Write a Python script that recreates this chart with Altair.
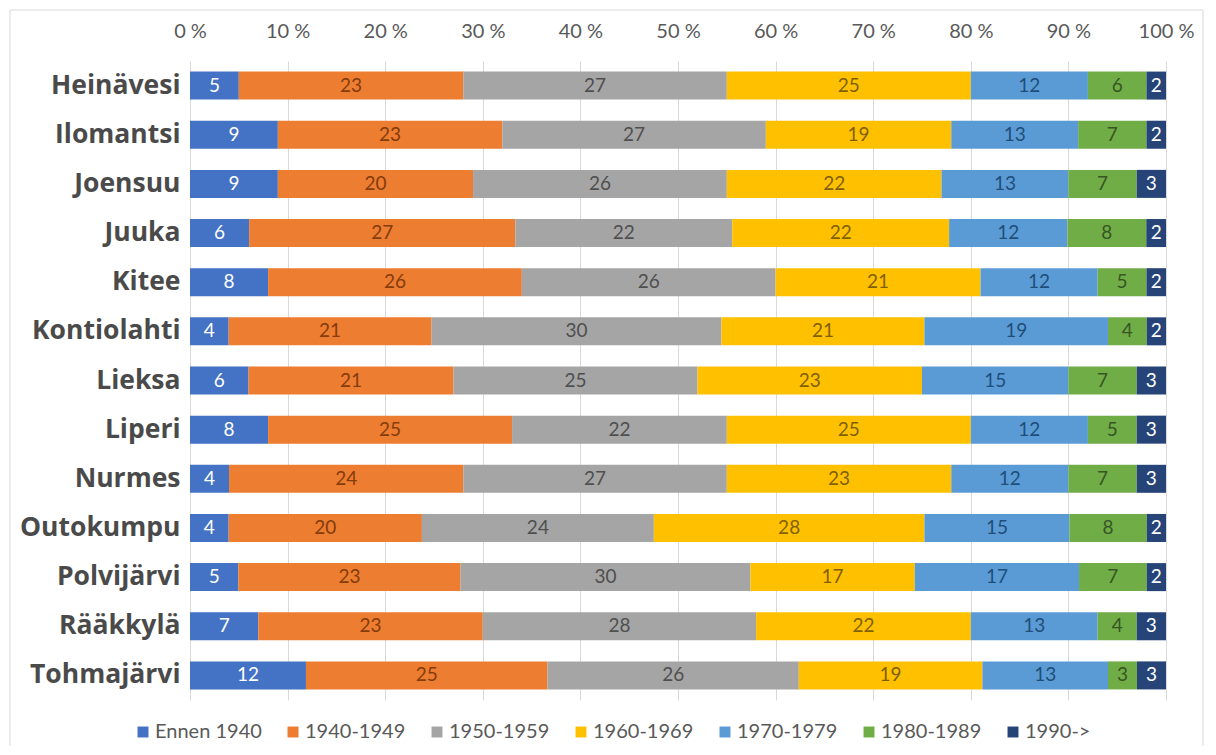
import altair as alt
import pandas as pd

municipalities = ["Heinävesi", "Ilomantsi", "Joensuu", "Juuka", "Kitee", "Kontiolahti",
                  "Lieksa", "Liperi", "Nurmes", "Outokumpu", "Polvijärvi", "Rääkkylä", "Tohmajärvi"]
series = ["Ennen 1940", "1940-1949", "1950-1959", "1960-1969", "1970-1979", "1980-1989", "1990->"]

ennen_1940 = [5, 9, 9, 6, 8, 4, 6, 8, 4, 4, 5, 7, 12]
v1940_1949 = [23, 23, 20, 27, 26, 21, 21, 25, 24, 20, 23, 23, 25]
v1950_1959 = [27, 27, 26, 22, 26, 30, 25, 22, 27, 24, 30, 28, 26]
v1960_1969 = [25, 19, 22, 22, 21, 21, 23, 25, 23, 28, 17, 22, 19]
v1970_1979 = [12, 13, 13, 12, 12, 19, 15, 12, 12, 15, 17, 13, 13]
v1980_1989 = [6, 7, 7, 8, 5, 4, 7, 5, 7, 8, 7, 4, 3]
v1990 = [2, 2, 3, 2, 2, 2, 3, 3, 3, 2, 2, 3, 3]

bar_colors = ["#4472C4", "#ED7D31", "#A5A5A5", "#FFC000", "#5B9BD5", "#70AD47", "#264478"]
text_colors = ["#FFFFFF", "#843C0C", "#4F4F4F", "#7F6000", "#1F4E79", "#375623", "#FFFFFF"]

all_values = [ennen_1940, v1940_1949, v1950_1959, v1960_1969, v1970_1979, v1980_1989, v1990]
rows = []
for si, (s, vals) in enumerate(zip(series, all_values)):
    for m, v in zip(municipalities, vals):
        rows.append({"kunta": m, "series": s, "order": si, "value": v})
df = pd.DataFrame(rows)

FONT = "Lato"

base = (
    alt.Chart(df)
    .transform_joinaggregate(total="sum(value)", groupby=["kunta"])
    .transform_window(cum="sum(value)", sort=[alt.SortField("order")], groupby=["kunta"], frame=[None, 0])
    .transform_calculate(
        x0="(datum.cum - datum.value) / datum.total",
        x1="datum.cum / datum.total",
        xm="(datum.cum - datum.value / 2) / datum.total",
    )
)

y_enc = alt.Y(
    "kunta:N",
    sort=municipalities,
    scale=alt.Scale(paddingInner=0.43, paddingOuter=0.215),
    axis=alt.Axis(title=None, ticks=False, domain=False, labelFontSize=26.5, labelFont="Open Sans",
                  labelFontWeight="bold", labelColor="#4A4A4A", labelPadding=10),
)

bars = base.mark_bar().encode(
    y=y_enc,
    x=alt.X(
        "x0:Q",
        scale=alt.Scale(domain=[0, 1], nice=False),
        axis=alt.Axis(orient="top", title=None, values=[i / 10 for i in range(11)],
                      labelExpr="format(datum.value * 100, 'd') + ' %'",
                      labelFlush=False,
                      ticks=False, domain=False, grid=True, gridColor="#D9D9D9",
                      labelFontSize=20, labelFont=FONT, labelColor="#595959", labelPadding=20),
    ),
    x2="x1:Q",
    color=alt.Color(
        "series:N",
        sort=series,
        scale=alt.Scale(domain=series, range=bar_colors),
        legend=alt.Legend(title=None, orient="none", direction="horizontal", legendX=-57, legendY=661,
                          symbolType="square", symbolSize=120, symbolStrokeWidth=0,
                          labelFontSize=20, labelFont=FONT, labelColor="#595959",
                          columnPadding=21, labelOffset=2),
    ),
)

labels = base.mark_text(fontSize=19, font=FONT).encode(
    y=alt.Y("kunta:N", sort=municipalities),
    x=alt.X("xm:Q"),
    text=alt.Text("value:Q"),
    color=alt.Color("series:N", scale=alt.Scale(domain=series, range=text_colors), legend=None),
)

frame = alt.Chart(pd.DataFrame({"a": [0]})).mark_rect(fillOpacity=0, stroke="#D9D9D9", strokeWidth=1).encode(
    x=alt.value(-180), x2=alt.value(1013), y=alt.value(-51), y2=alt.value(760)
)

chart = (
    alt.layer(frame, bars, labels)
    .resolve_scale(color="independent")
    .properties(
        width=976,
        height=639,
        autosize=alt.AutoSizeParams(type="none"),
        padding={"left": 182, "top": 53, "right": 40, "bottom": 46},
        background="white",
    )
    .configure_view(stroke=None)
)

chart.save("out.html", embed_options={"renderer": "svg", "actions": False})
